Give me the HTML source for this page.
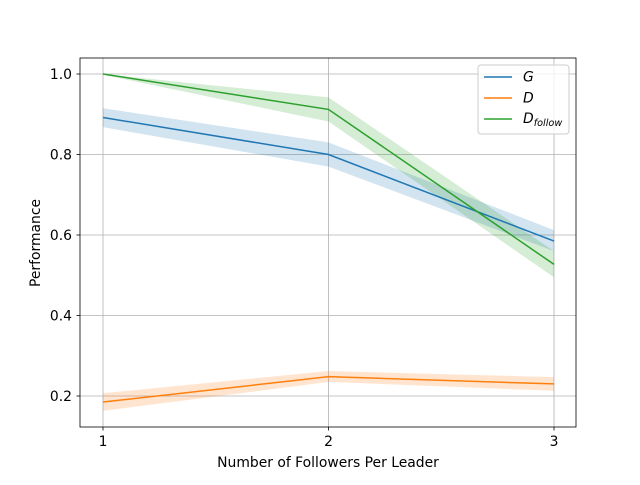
<!DOCTYPE html>
<html><head><meta charset="utf-8"><style>
body{margin:0;background:#fff;}
svg text{font-family:"DejaVu Sans","Liberation Sans",sans-serif;}
</style></head><body>
<svg id="chart" width="640" height="480" xmlns="http://www.w3.org/2000/svg">
<rect width="640" height="480" fill="#fff"/>
<g id="grid"></g>
<g id="bands"></g>
<g id="lines"></g>
<rect x="80" y="58" width="496" height="369" fill="none" stroke="#000" stroke-width="0.8"/>
<g id="ticks"></g>
<text x="328" y="467" text-anchor="middle" font-size="13.9">Number of Followers Per Leader</text>
<text transform="translate(40,243) rotate(-90)" text-anchor="middle" font-size="13.9">Performance</text>
<g>
<rect x="478" y="65" width="91" height="69" rx="3" fill="#fff" fill-opacity="0.8" stroke="#ccc"/>
<line x1="484" y1="77" x2="512" y2="77" stroke="#1f77b4" stroke-width="1.5"/>
<text x="523" y="81.5" font-size="13.9" font-style="italic">G</text>
<line x1="484" y1="98" x2="512" y2="98" stroke="#ff7f0e" stroke-width="1.5"/>
<text x="523" y="102.5" font-size="13.9" font-style="italic">D</text>
<line x1="484" y1="119" x2="512" y2="119" stroke="#2ca02c" stroke-width="1.5"/>
<text x="523" y="123" font-size="13.9" font-style="italic">D<tspan font-size="9.7" dy="3">follow</tspan></text>
</g>
</svg>
<script>
const categories=[1,2,3];
const yTicks=[0.2,0.4,0.6,0.8,1.0];
const gMean=[0.892,0.800,0.585];
const gLow=[0.868,0.770,0.560];
const gHigh=[0.915,0.830,0.612];
const dMean=[0.185,0.248,0.230];
const dLow=[0.163,0.235,0.213];
const dHigh=[0.207,0.262,0.247];
const fMean=[1.0,0.912,0.527];
const fLow=[0.998,0.882,0.495];
const fHigh=[1.0,0.942,0.560];
const NS='http://www.w3.org/2000/svg';
function xs(v){return 103+(v-1)*225.5;}
function ys(v){return 396-(v-0.2)*402.5;}
function mk(tag,attrs,parent){const e=document.createElementNS(NS,tag);for(const k in attrs)e.setAttribute(k,attrs[k]);document.getElementById(parent).appendChild(e);return e;}
categories.forEach(c=>{
 const g=mk('line',{x1:xs(c),x2:xs(c),y1:58,y2:427,stroke:'#b0b0b0','stroke-width':0.8},'grid');
 
 
 mk('line',{x1:xs(c),x2:xs(c),y1:427,y2:430.5,stroke:'#000','stroke-width':0.8},'ticks');
 const t=mk('text',{x:xs(c),y:446,'text-anchor':'middle','font-size':13.9},'ticks');t.textContent=c;
 
 
});
yTicks.forEach(v=>{
 const g=mk('line',{x1:80,x2:576,y1:ys(v),y2:ys(v),stroke:'#b0b0b0','stroke-width':0.8},'grid');
 
 
 mk('line',{x1:76.5,x2:80,y1:ys(v),y2:ys(v),stroke:'#000','stroke-width':0.8},'ticks');
 const t=mk('text',{x:72,y:ys(v)+5,'text-anchor':'end','font-size':13.9},'ticks');t.textContent=v.toFixed(1);
 
 
});
function series(mean,lo,hi,color,name){
 let pts=categories.map((c,i)=>xs(c)+','+ys(hi[i]));
 pts=pts.concat(categories.map((c,i)=>xs(c)+','+ys(lo[i])).reverse());
 const b=mk('polygon',{points:pts.join(' '),fill:color,'fill-opacity':0.2},'bands');
 
 
 const l=mk('polyline',{points:categories.map((c,i)=>xs(c)+','+ys(mean[i])).join(' '),fill:'none',stroke:color,'stroke-width':1.5},'lines');
 
 
}
series(gMean,gLow,gHigh,'#1f77b4','g');
series(dMean,dLow,dHigh,'#ff7f0e','d');
series(fMean,fLow,fHigh,'#2ca02c','dfollow');
</script>
</body></html>
